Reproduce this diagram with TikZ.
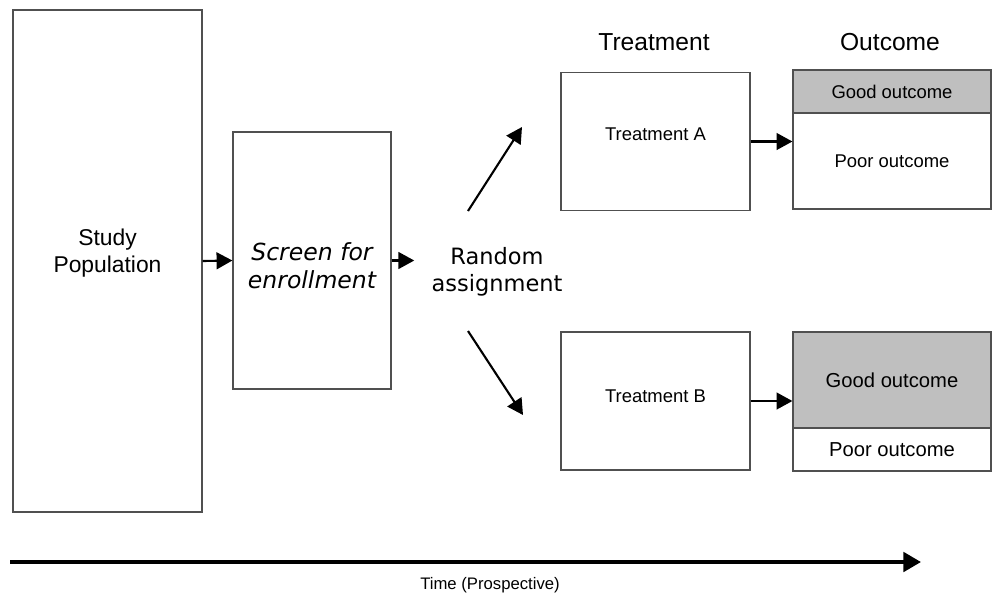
\documentclass[tikz,border=0pt]{standalone}
\usepackage{fontspec}
\setmainfont{Liberation Sans}
\newfontfamily\verdanafont{DejaVu Sans}
\usetikzlibrary{arrows.meta,positioning}
\definecolor{boxline}{RGB}{80,80,80}
\definecolor{goodgray}{RGB}{191,191,191}

\begin{document}
\begin{tikzpicture}[x=0.02cm, y=-0.02cm,
    box/.style={draw=boxline, line width=0.7pt, inner sep=0pt, align=center},
    flow/.style={-{Triangle[length=9pt,width=9.5pt]}, line width=1.2pt},
    ]
    \useasboundingbox (0,0) rectangle (994,596);

    % Study population and screening
    \node[box, minimum width=3.78cm, minimum height=10.04cm] (study) at (107.5,261) {};
    \node[font=\fontsize{13}{15.3}\selectfont, align=center, anchor=base] (studytext) at (107.5,272) {Study\\Population};

    \node[box, minimum width=3.16cm, minimum height=5.14cm] (screen) at (312,260.5) {};
    \node[font=\verdanafont\itshape\fontsize{13.4}{15.9}\selectfont, align=center, anchor=base] (screentext) at (312,288) {Screen for\\enrollment};

    \node[font=\verdanafont\fontsize{12.8}{15.3}\selectfont, align=center, anchor=base, inner sep=0.34cm] (random) at (497,291) {Random\\assignment};

    % Column headers
    \node[font=\fontsize{14}{16}\selectfont, anchor=base] (trthead) at (654,50) {Treatment};
    \node[font=\fontsize{14}{16}\selectfont, anchor=base] (outhead) at (890,50) {Outcome};

    % Treatment arms
    \node[box, minimum width=3.78cm, minimum height=2.76cm] (trtA) at (655.5,141.5) {};
    \node[font=\fontsize{10.5}{12}\selectfont, anchor=base] (trtAtext) at (655.5,140) {Treatment A};
    \node[box, minimum width=3.78cm, minimum height=2.76cm] (trtB) at (655.5,401) {};
    \node[font=\fontsize{10.5}{12}\selectfont, anchor=base] (trtBtext) at (655.5,402) {Treatment B};

    % Outcomes
    \node[box, fill=goodgray, minimum width=3.96cm, minimum height=0.86cm, font=\fontsize{10.5}{12}\selectfont] (goodA) at (892,91.5) {Good outcome};
    \node[box, minimum width=3.96cm, minimum height=1.92cm, font=\fontsize{10.5}{12}\selectfont] (poorA) at (892,161) {Poor outcome};
    \node[box, fill=goodgray, minimum width=3.96cm, minimum height=1.92cm, font=\fontsize{11.5}{13}\selectfont] (goodB) at (892,380) {Good outcome};
    \node[box, minimum width=3.96cm, minimum height=0.86cm, font=\fontsize{11.5}{13}\selectfont] (poorB) at (892,449.5) {Poor outcome};

    % Connectors
    \coordinate (upfrom) at (468,211);
    \coordinate (upto) at (522,127);
    \coordinate (downfrom) at (468,331);
    \coordinate (downto) at (523,415);

    \draw[flow] (study.east) -- (screen.west);
    \draw[flow] (screen.east) -- (screen.east -| random.west);
    \draw[flow] (upfrom) -- (upto);
    \draw[flow] (downfrom) -- (downto);
    \draw[flow] (trtA.east) -- (trtA.east -| poorA.west);
    \draw[flow] (trtB.east) -- (trtB.east -| goodB.west);

    % Time axis
    \coordinate (tstart) at (10,562);
    \coordinate (tend) at (921,562);
    \draw[-{Triangle[length=10pt,width=11pt]}, line width=2.2pt] (tstart) -- (tend);
    \node[font=\fontsize{9.5}{11}\selectfont, anchor=base] (timetext) at (490,589) {Time (Prospective)};

\end{tikzpicture}
\end{document}
